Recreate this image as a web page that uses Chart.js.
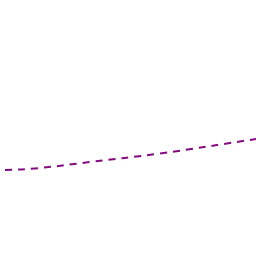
<!DOCTYPE html>
<html><head><meta charset="utf-8">
<style>html,body{margin:0;padding:0;background:#fff;}#wrap{width:256px;height:256px;}</style>
<script src="https://cdn.jsdelivr.net/npm/chart.js@4/dist/chart.umd.min.js"></script>
</head><body><div id="wrap"><canvas id="c" width="256" height="256"></canvas></div>
<script>
const xValues = [5, 35, 90, 160, 256];
const yValues = [86, 87.5, 94, 102.5, 117];
const points = xValues.map((x, i) => ({x: x, y: yValues[i]}));
new Chart(document.getElementById('c'), {
  type: 'line',
  data: { datasets: [{
    data: points,
    borderColor: '#850a80',
    borderWidth: 2,
    borderDash: [7, 6],
    pointRadius: 0,
    tension: 0.4,
    fill: false
  }]},
  options: {
    responsive: false,
    animation: false,
    layout: { padding: 0 },
    plugins: { legend: { display: false }, tooltip: { enabled: false } },
    scales: {
      x: { type: 'linear', min: 0, max: 256, display: false },
      y: { type: 'linear', min: 0, max: 256, display: false }
    }
  }
});
</script></body></html>
